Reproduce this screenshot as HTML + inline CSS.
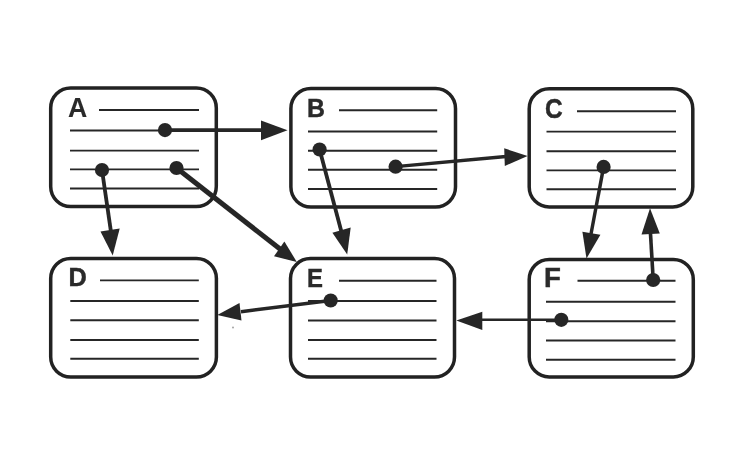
<!DOCTYPE html>
<html>
<head>
<meta charset="utf-8">
<title>Linked records diagram</title>
<style>
  html, body { margin: 0; padding: 0; background: #ffffff; }
  body { width: 746px; height: 455px; overflow: hidden; }
  svg { display: block; }
  .box { fill: #ffffff; stroke: #222222; stroke-width: 3.5; }
  .ln { stroke: #262626; stroke-width: 1.9; fill: none; }
  .lbl { font-family: "Liberation Sans", sans-serif; font-weight: bold; font-size: 27.2px; fill: #2a2a2a; stroke: #2a2a2a; stroke-width: 0.45; }
  .dot { fill: #282828; }
  .arr { stroke: #262626; stroke-width: 3.8; fill: none; }
  .head { fill: #262626; stroke: none; }
</style>
</head>
<body>
<svg width="746" height="455" viewBox="0 0 746 455">
  <defs><filter id="soft" x="0" y="0" width="746" height="455" filterUnits="userSpaceOnUse"><feGaussianBlur stdDeviation="0.55"/></filter></defs>
  <rect x="0" y="0" width="746" height="455" fill="#ffffff"/>
  <g filter="url(#soft)">

  <!-- boxes -->
  <rect class="box" x="50.7" y="87.9" width="165.6" height="118.6" rx="20" ry="20"/>
  <rect class="box" x="290.9" y="88.4" width="164.6" height="118.7" rx="20" ry="20"/>
  <rect class="box" x="529.2" y="88.7" width="163.6" height="118.2" rx="20" ry="20"/>
  <rect class="box" x="50.7" y="258.4" width="165.7" height="118.6" rx="20" ry="20"/>
  <rect class="box" x="290.5" y="258.6" width="164" height="118.4" rx="20" ry="20"/>
  <rect class="box" x="529.2" y="259.4" width="164.1" height="117.5" rx="20" ry="20"/>

  <!-- ruled lines -->
  <g class="ln">
    <path d="M99 110H199 M70 130.5H199 M70 150.6H199 M70 169.4H199 M70 188.5H199"/>
    <path d="M339 110.3H437.2 M308 131.5H437.2 M308 150.7H437.2 M308 169.7H437.2 M308 189H437.2"/>
    <path d="M577 111.2H676 M546.5 131.6H676 M546.5 151.3H676 M546.5 170.4H676 M546.5 189.3H676"/>
    <path d="M100 280.4H198.8 M70.3 301H198.8 M70.3 320.3H198.8 M70.3 340H198.8 M70.3 358.8H198.8"/>
    <path d="M339 280.7H436.5 M308 301H436.5 M308 320.5H436.5 M308 340H436.5 M308 358.8H436.5"/>
    <path d="M577.5 280.8H675.5 M546 301.8H675.5 M546 321.2H675.5 M546 340.5H675.5 M546 359.8H675.5"/>
  </g>

  <!-- labels -->
  <text class="lbl" transform="translate(68.1,117) scale(0.951,1)" style="font-size:28px;stroke-width:0.1">A</text>
  <text class="lbl" transform="translate(307.1,116.5) scale(0.945,1)" style="font-size:26.3px">B</text>
  <text class="lbl" transform="translate(545,117.6) scale(0.9,1)">C</text>
  <text class="lbl" transform="translate(68.5,286.3) scale(0.955,1)" style="font-size:26.5px">D</text>
  <text class="lbl" transform="translate(307.1,286.5) scale(0.895,1)" style="font-size:26.7px">E</text>
  <text class="lbl" transform="translate(544,287.2) scale(1.015,1)">F</text>

  <!-- dots -->
  <g class="dot">
    <circle cx="165" cy="130.1" r="7.1"/>
    <circle cx="102" cy="170.1" r="7.1"/>
    <circle cx="176.5" cy="168" r="7.1"/>
    <circle cx="319.6" cy="149.5" r="7.1"/>
    <circle cx="395.6" cy="166.7" r="7.1"/>
    <circle cx="603.6" cy="166.9" r="7.1"/>
    <circle cx="330.7" cy="300.5" r="7.1"/>
    <circle cx="653.2" cy="280" r="7.1"/>
    <circle cx="561.3" cy="319.8" r="7.1"/>
  </g>

  <!-- arrow shafts -->
  <g class="arr">
    <path d="M165 130.1H265" style="stroke-width:3.6"/>
    <path d="M102 170.1L111 232"/>
    <path d="M176.5 168L281 249.8" style="stroke-width:5"/>
    <path d="M319.6 149.5L341.5 232"/>
    <path d="M395.6 166.7L506 156.5" style="stroke-width:3.3"/>
    <path d="M603.6 166.9L591 234" style="stroke-width:3.5"/>
    <path d="M653.2 280L650.4 232" style="stroke-width:3.6"/>
    <path d="M561.3 319.8H480" style="stroke-width:2.6"/>
    <path d="M330.7 300.5L241 311.7" style="stroke-width:3.4"/>
  </g>

  <!-- arrow heads -->
  <g class="head">
    <polygon points="287.5,130.3 261,120.4 261,140.3"/>
    <polygon points="112.7,255.5 100.5,231.4 119.7,228.4"/>
    <polygon points="296.8,262 274,256.2 284.4,241.4"/>
    <polygon points="347.2,254.6 332.4,232.7 350.7,227.4"/>
    <polygon points="527.6,156 504.2,148.3 504.8,166"/>
    <polygon points="586.5,258.5 582.4,231.8 600.4,234.8"/>
    <polygon points="650,208.3 641.5,234.4 659.8,233.4"/>
    <polygon points="456.3,320.4 482.3,311.7 482.3,330"/>
    <polygon points="217.3,315 239.5,303 241.5,320.4"/>
  </g>

  </g>
  <!-- scan speck -->
  <circle cx="233" cy="327.5" r="0.9" fill="#9a9a9a"/>
</svg>
</body>
</html>
